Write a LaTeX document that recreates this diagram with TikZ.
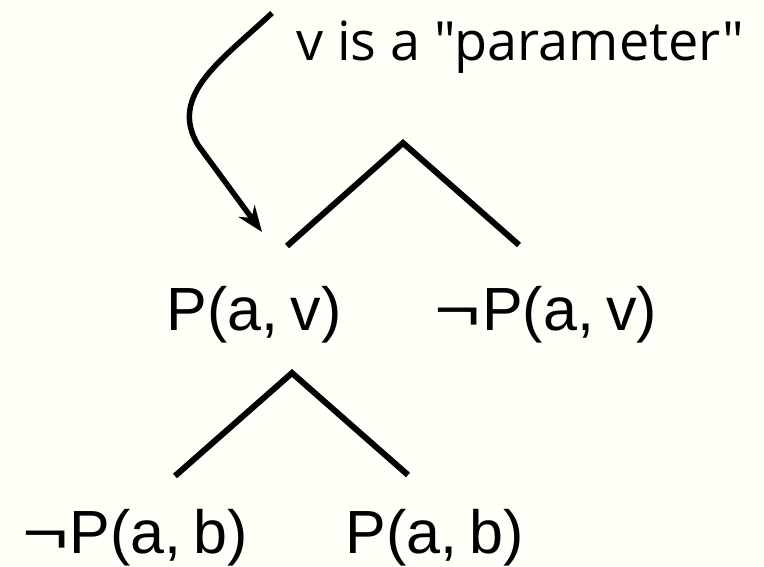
\documentclass[tikz,border=0pt]{standalone}
\usepackage{fontspec}
\setmainfont{Liberation Sans}
\newfontfamily\notefont{Open Sans}
\usetikzlibrary{arrows.meta}
\definecolor{bgcream}{RGB}{255,255,248}
\newcommand{\wneg}{\scalebox{1.3}[1]{¬}\kern1pt}
\begin{document}
\begin{tikzpicture}[x=1pt,y=-1pt,
  term/.style={anchor=base,inner sep=0pt,font=\fontsize{61}{66}\selectfont},
  note/.style={anchor=base west,inner sep=0pt,font=\notefont\fontsize{54}{60}\selectfont},
  branch/.style={line width=6pt},
  pointer/.style={line width=5.5pt,-{Stealth[length=26pt,width=20pt]}}]
\fill[bgcream] (0,0) rectangle (764,566);
\useasboundingbox (0,0) rectangle (764,566);
\node[note] (lbl) at (296,60) {v is a "parameter"};
\node[term] (pav) at (254,330) {P(a,\kern0.2em v)};
\node[term] (npav) at (546,330) {\wneg P(a,\kern0.2em v)};
\node[term] (npab) at (135,553) {\wneg P(a,\kern0.2em b)};
\node[term] (pab) at (435,553) {P(a,\kern0.2em b)};
\coordinate (top) at (403,143);
\coordinate (topl) at (287,246);
\coordinate (topr) at (519,245);
\coordinate (mid) at (292,373);
\coordinate (midl) at (175,476);
\coordinate (midr) at (408,475);
\coordinate (arrs) at (272,13);
\coordinate (arre) at (262,232);
\draw[branch] (topl) -- (top) -- (topr);
\draw[branch] (midl) -- (mid) -- (midr);
\draw[pointer] (arrs) .. controls (222,60) and (168,95) .. (198,145) -- (arre);
\end{tikzpicture}
\end{document}
